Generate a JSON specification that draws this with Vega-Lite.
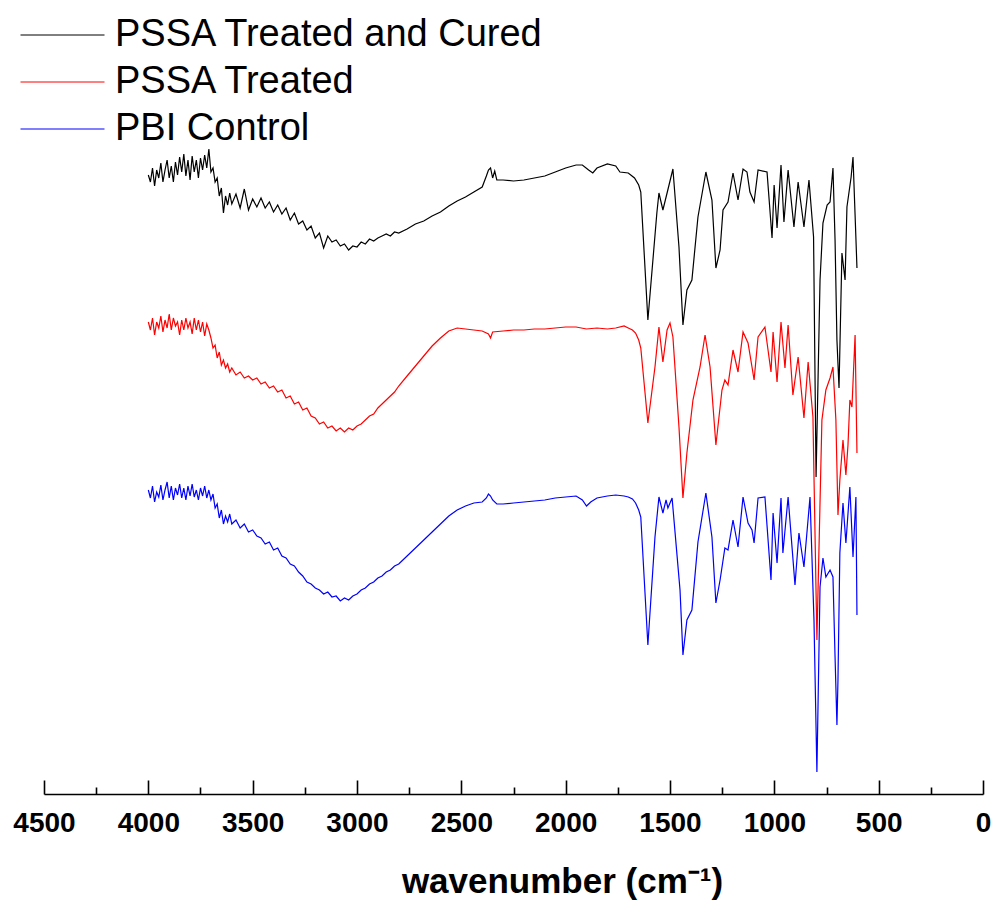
{
  "$schema": "https://vega.github.io/schema/vega-lite/v6.json",
  "width": 939,
  "height": 794,
  "autosize": {"type": "none"},
  "padding": {"left": 44, "top": 0, "right": 13, "bottom": 111},
  "background": "white",
  "config": {"view": {"stroke": null}, "font": "Liberation Sans"},
  "datasets": {
    "cured": [
      {"wn":4000,"t":61.9},{"wn":3990,"t":61.2},{"wn":3980,"t":62.6},{"wn":3970,"t":60.8},{"wn":3960,"t":62.4},{"wn":3950,"t":61.6},{"wn":3940,"t":63.1},{"wn":3930,"t":61.2},{"wn":3920,"t":62.4},{"wn":3910,"t":63.4},{"wn":3900,"t":61.6},{"wn":3890,"t":62.8},{"wn":3880,"t":61.2},{"wn":3870,"t":63.2},{"wn":3860,"t":61.9},{"wn":3850,"t":63.7},{"wn":3840,"t":62.2},{"wn":3830,"t":64.0},{"wn":3820,"t":61.8},{"wn":3810,"t":63.4},{"wn":3800,"t":61.4},{"wn":3790,"t":63.8},{"wn":3780,"t":62.2},{"wn":3770,"t":63.4},{"wn":3760,"t":61.6},{"wn":3750,"t":63.6},{"wn":3740,"t":62.4},{"wn":3730,"t":63.9},{"wn":3720,"t":62.6},{"wn":3710,"t":64.5},{"wn":3700,"t":62.2},{"wn":3690,"t":62.6},{"wn":3680,"t":61.2},{"wn":3670,"t":61.6},{"wn":3660,"t":59.8},{"wn":3650,"t":60.6},{"wn":3640,"t":58.1},{"wn":3630,"t":59.8},{"wn":3620,"t":58.9},{"wn":3610,"t":60.1},{"wn":3600,"t":59.0},
      {"wn":3580,"t":60.0},{"wn":3560,"t":58.6},{"wn":3540,"t":60.5},{"wn":3520,"t":58.4},{"wn":3500,"t":59.5},{"wn":3480,"t":58.7},{"wn":3460,"t":59.6},{"wn":3440,"t":58.6},{"wn":3420,"t":59.2},{"wn":3400,"t":58.2},{"wn":3380,"t":58.9},{"wn":3360,"t":58.0},{"wn":3340,"t":58.6},{"wn":3320,"t":57.4},{"wn":3300,"t":58.1},{"wn":3280,"t":57.0},{"wn":3260,"t":57.3},{"wn":3240,"t":56.4},{"wn":3220,"t":56.8},{"wn":3200,"t":55.6},{"wn":3180,"t":56.1},{"wn":3160,"t":54.6},{"wn":3140,"t":55.8},{"wn":3120,"t":55.2},{"wn":3100,"t":55.4},{"wn":3080,"t":54.8},{"wn":3060,"t":55.0},{"wn":3040,"t":54.4},{"wn":3020,"t":54.8},{"wn":3000,"t":54.7},{"wn":2980,"t":55.2},{"wn":2960,"t":55.0},{"wn":2940,"t":55.5},{"wn":2920,"t":55.3},{"wn":2900,"t":55.6},{"wn":2880,"t":55.8},{"wn":2860,"t":56.0},{"wn":2840,"t":55.8},{"wn":2820,"t":56.2},{"wn":2800,"t":56.1},{"wn":2760,"t":56.5},{"wn":2720,"t":57.0},{"wn":2680,"t":57.3},{"wn":2640,"t":57.8},{"wn":2600,"t":58.2},{"wn":2560,"t":58.8},{"wn":2520,"t":59.3},{"wn":2480,"t":59.7},{"wn":2440,"t":60.2},{"wn":2400,"t":60.7},{"wn":2380,"t":61.8},{"wn":2370,"t":62.4},{"wn":2360,"t":62.6},{"wn":2350,"t":61.6},{"wn":2340,"t":62.3},{"wn":2330,"t":61.4},{"wn":2300,"t":61.4},{"wn":2250,"t":61.3},{"wn":2200,"t":61.4},{"wn":2150,"t":61.6},{"wn":2100,"t":61.8},{"wn":2050,"t":62.2},{"wn":2000,"t":62.6},{"wn":1950,"t":62.9},{"wn":1920,"t":62.9},{"wn":1890,"t":62.4},{"wn":1870,"t":62.1},{"wn":1850,"t":62.6},{"wn":1800,"t":63.0},{"wn":1760,"t":62.8},{"wn":1740,"t":62.2},{"wn":1700,"t":62.1},{"wn":1670,"t":61.6},{"wn":1650,"t":60.9},{"wn":1640,"t":60.2},
      {"wn":1606,"t":47.4},{"wn":1563,"t":58.1},{"wn":1553,"t":60.1},{"wn":1534,"t":58.4},{"wn":1514,"t":60.1},{"wn":1486,"t":62.5},{"wn":1457,"t":54.7},{"wn":1438,"t":46.9},{"wn":1419,"t":50.4},{"wn":1395,"t":51.4},{"wn":1366,"t":57.7},{"wn":1328,"t":62.2},{"wn":1299,"t":59.4},{"wn":1280,"t":52.6},{"wn":1260,"t":54.4},{"wn":1246,"t":58.4},{"wn":1222,"t":59.2},{"wn":1198,"t":62.1},{"wn":1174,"t":59.4},{"wn":1150,"t":62.5},{"wn":1131,"t":62.2},{"wn":1117,"t":60.2},{"wn":1097,"t":59.2},{"wn":1078,"t":62.4},{"wn":1035,"t":62.2},{"wn":1011,"t":55.6},{"wn":1001,"t":60.9},{"wn":987,"t":56.6},{"wn":968,"t":62.9},{"wn":954,"t":57.2},{"wn":934,"t":62.4},{"wn":906,"t":56.7},{"wn":886,"t":61.2},{"wn":858,"t":56.7},{"wn":834,"t":61.4},{"wn":812,"t":55.7},{"wn":800,"t":31.7},{"wn":781,"t":51.4},{"wn":767,"t":57.1},{"wn":747,"t":58.9},{"wn":733,"t":59.2},{"wn":719,"t":62.6},{"wn":709,"t":55.4},{"wn":700,"t":45.4},{"wn":690,"t":40.6},{"wn":676,"t":54.1},{"wn":661,"t":51.4},{"wn":652,"t":58.7},{"wn":632,"t":61.7},{"wn":623,"t":63.7},{"wn":613,"t":57.9},{"wn":604,"t":52.6}
    ],
    "treated": [
      {"wn":4000,"t":47.2},{"wn":3990,"t":46.4},{"wn":3980,"t":47.6},{"wn":3970,"t":45.9},{"wn":3960,"t":47.2},{"wn":3950,"t":46.6},{"wn":3940,"t":47.8},{"wn":3930,"t":46.2},{"wn":3920,"t":47.4},{"wn":3910,"t":46.6},{"wn":3900,"t":48.0},{"wn":3890,"t":46.4},{"wn":3880,"t":47.6},{"wn":3870,"t":46.8},{"wn":3860,"t":47.2},{"wn":3850,"t":45.9},{"wn":3840,"t":47.4},{"wn":3830,"t":46.4},{"wn":3820,"t":47.6},{"wn":3810,"t":46.6},{"wn":3800,"t":47.2},{"wn":3790,"t":46.0},{"wn":3780,"t":47.6},{"wn":3770,"t":46.4},{"wn":3760,"t":47.4},{"wn":3750,"t":46.2},{"wn":3740,"t":47.2},{"wn":3730,"t":45.8},{"wn":3720,"t":47.0},{"wn":3710,"t":46.4},{"wn":3700,"t":45.6},{"wn":3690,"t":44.6},{"wn":3680,"t":44.9},{"wn":3670,"t":43.6},{"wn":3660,"t":44.2},{"wn":3650,"t":42.9},{"wn":3640,"t":43.4},{"wn":3630,"t":42.6},{"wn":3620,"t":43.0},{"wn":3610,"t":42.2},{"wn":3600,"t":42.6},
      {"wn":3580,"t":41.9},{"wn":3560,"t":42.2},{"wn":3540,"t":41.6},{"wn":3520,"t":41.8},{"wn":3500,"t":41.4},{"wn":3480,"t":41.6},{"wn":3460,"t":41.0},{"wn":3440,"t":41.2},{"wn":3420,"t":40.6},{"wn":3400,"t":40.8},{"wn":3380,"t":40.2},{"wn":3360,"t":40.4},{"wn":3340,"t":39.6},{"wn":3320,"t":39.8},{"wn":3300,"t":39.0},{"wn":3280,"t":39.2},{"wn":3260,"t":38.4},{"wn":3240,"t":38.6},{"wn":3220,"t":37.8},{"wn":3200,"t":37.6},{"wn":3180,"t":37.0},{"wn":3160,"t":37.2},{"wn":3140,"t":36.6},{"wn":3120,"t":36.8},{"wn":3100,"t":36.3},{"wn":3080,"t":36.6},{"wn":3060,"t":36.2},{"wn":3040,"t":36.6},{"wn":3020,"t":36.4},{"wn":3000,"t":36.8},{"wn":2980,"t":37.0},{"wn":2960,"t":37.4},{"wn":2940,"t":37.8},{"wn":2920,"t":38.0},{"wn":2900,"t":38.6},{"wn":2880,"t":39.0},{"wn":2860,"t":39.4},{"wn":2840,"t":39.8},{"wn":2820,"t":40.2},{"wn":2800,"t":40.8},{"wn":2760,"t":41.8},{"wn":2720,"t":42.8},{"wn":2680,"t":43.8},{"wn":2640,"t":44.8},{"wn":2600,"t":45.6},{"wn":2560,"t":46.3},{"wn":2520,"t":46.6},{"wn":2480,"t":46.5},{"wn":2440,"t":46.4},{"wn":2400,"t":46.3},{"wn":2370,"t":46.0},{"wn":2360,"t":45.6},{"wn":2350,"t":46.2},{"wn":2300,"t":46.3},{"wn":2250,"t":46.4},{"wn":2200,"t":46.4},{"wn":2150,"t":46.5},{"wn":2100,"t":46.5},{"wn":2050,"t":46.6},{"wn":2000,"t":46.7},{"wn":1950,"t":46.7},{"wn":1900,"t":46.5},{"wn":1850,"t":46.6},{"wn":1800,"t":46.5},{"wn":1760,"t":46.6},{"wn":1720,"t":46.8},{"wn":1700,"t":46.6},{"wn":1680,"t":46.4},{"wn":1665,"t":46.1},{"wn":1650,"t":45.4},{"wn":1640,"t":44.6},
      {"wn":1606,"t":37.1},{"wn":1572,"t":42.7},{"wn":1553,"t":46.7},{"wn":1534,"t":43.2},{"wn":1514,"t":46.4},{"wn":1500,"t":47.1},{"wn":1486,"t":45.7},{"wn":1457,"t":36.7},{"wn":1438,"t":29.6},{"wn":1419,"t":34.1},{"wn":1390,"t":39.4},{"wn":1356,"t":42.7},{"wn":1332,"t":45.9},{"wn":1308,"t":42.7},{"wn":1280,"t":34.9},{"wn":1251,"t":40.4},{"wn":1237,"t":41.4},{"wn":1222,"t":40.9},{"wn":1198,"t":44.4},{"wn":1174,"t":42.2},{"wn":1150,"t":46.2},{"wn":1126,"t":45.1},{"wn":1107,"t":42.7},{"wn":1097,"t":41.4},{"wn":1078,"t":45.7},{"wn":1045,"t":46.7},{"wn":1016,"t":42.2},{"wn":1006,"t":46.2},{"wn":987,"t":41.2},{"wn":968,"t":47.2},{"wn":949,"t":42.6},{"wn":934,"t":46.9},{"wn":911,"t":39.9},{"wn":886,"t":43.7},{"wn":858,"t":37.6},{"wn":838,"t":43.2},{"wn":815,"t":37.7},{"wn":796,"t":15.4},{"wn":772,"t":37.4},{"wn":753,"t":40.4},{"wn":733,"t":41.6},{"wn":719,"t":42.7},{"wn":705,"t":37.4},{"wn":695,"t":27.9},{"wn":686,"t":31.4},{"wn":671,"t":35.4},{"wn":657,"t":31.9},{"wn":647,"t":34.9},{"wn":638,"t":39.4},{"wn":628,"t":38.7},{"wn":613,"t":45.9},{"wn":604,"t":34.1}
    ],
    "control": [
      {"wn":4000,"t":30.4},{"wn":3990,"t":29.6},{"wn":3980,"t":30.8},{"wn":3970,"t":29.2},{"wn":3960,"t":30.2},{"wn":3950,"t":29.7},{"wn":3940,"t":30.9},{"wn":3930,"t":29.4},{"wn":3920,"t":30.4},{"wn":3910,"t":31.2},{"wn":3900,"t":29.6},{"wn":3890,"t":30.8},{"wn":3880,"t":29.4},{"wn":3870,"t":30.6},{"wn":3860,"t":29.9},{"wn":3850,"t":31.0},{"wn":3840,"t":29.6},{"wn":3830,"t":30.6},{"wn":3820,"t":29.4},{"wn":3810,"t":30.8},{"wn":3800,"t":29.8},{"wn":3790,"t":31.0},{"wn":3780,"t":29.7},{"wn":3770,"t":30.4},{"wn":3760,"t":29.4},{"wn":3750,"t":30.6},{"wn":3740,"t":29.8},{"wn":3730,"t":30.8},{"wn":3720,"t":29.6},{"wn":3710,"t":30.4},{"wn":3700,"t":29.4},{"wn":3690,"t":30.0},{"wn":3680,"t":28.6},{"wn":3670,"t":29.0},{"wn":3660,"t":27.6},{"wn":3650,"t":28.4},{"wn":3640,"t":27.0},{"wn":3630,"t":27.8},{"wn":3620,"t":27.2},{"wn":3610,"t":28.0},{"wn":3600,"t":27.0},
      {"wn":3580,"t":27.4},{"wn":3560,"t":26.6},{"wn":3540,"t":27.0},{"wn":3520,"t":26.2},{"wn":3500,"t":26.4},{"wn":3480,"t":25.8},{"wn":3460,"t":25.6},{"wn":3440,"t":25.0},{"wn":3420,"t":25.2},{"wn":3400,"t":24.4},{"wn":3380,"t":24.6},{"wn":3360,"t":23.8},{"wn":3340,"t":23.6},{"wn":3320,"t":23.0},{"wn":3300,"t":22.8},{"wn":3280,"t":22.2},{"wn":3260,"t":21.8},{"wn":3240,"t":21.2},{"wn":3220,"t":21.0},{"wn":3200,"t":20.6},{"wn":3180,"t":20.4},{"wn":3160,"t":20.0},{"wn":3140,"t":20.2},{"wn":3120,"t":19.7},{"wn":3100,"t":19.8},{"wn":3080,"t":19.3},{"wn":3060,"t":19.6},{"wn":3040,"t":19.4},{"wn":3020,"t":19.8},{"wn":3000,"t":20.0},{"wn":2980,"t":20.4},{"wn":2960,"t":20.6},{"wn":2940,"t":21.0},{"wn":2920,"t":21.2},{"wn":2900,"t":21.6},{"wn":2880,"t":21.8},{"wn":2860,"t":22.2},{"wn":2840,"t":22.4},{"wn":2820,"t":22.8},{"wn":2800,"t":23.0},{"wn":2760,"t":23.8},{"wn":2720,"t":24.6},{"wn":2680,"t":25.4},{"wn":2640,"t":26.2},{"wn":2600,"t":27.0},{"wn":2560,"t":27.8},{"wn":2520,"t":28.4},{"wn":2480,"t":28.8},{"wn":2440,"t":29.1},{"wn":2400,"t":29.2},{"wn":2380,"t":29.6},{"wn":2370,"t":30.0},{"wn":2360,"t":29.8},{"wn":2350,"t":29.4},{"wn":2330,"t":29.0},{"wn":2300,"t":29.0},{"wn":2250,"t":29.1},{"wn":2200,"t":29.2},{"wn":2150,"t":29.3},{"wn":2100,"t":29.4},{"wn":2050,"t":29.6},{"wn":2000,"t":29.7},{"wn":1950,"t":29.8},{"wn":1920,"t":29.4},{"wn":1900,"t":28.8},{"wn":1880,"t":29.2},{"wn":1850,"t":29.6},{"wn":1800,"t":29.8},{"wn":1760,"t":29.9},{"wn":1720,"t":29.8},{"wn":1700,"t":29.7},{"wn":1680,"t":29.5},{"wn":1665,"t":29.1},{"wn":1650,"t":28.4},{"wn":1640,"t":27.7},
      {"wn":1606,"t":14.9},{"wn":1572,"t":25.7},{"wn":1553,"t":29.7},{"wn":1534,"t":28.1},{"wn":1519,"t":29.4},{"wn":1510,"t":28.6},{"wn":1490,"t":29.6},{"wn":1452,"t":20.4},{"wn":1438,"t":13.9},{"wn":1419,"t":17.4},{"wn":1395,"t":18.4},{"wn":1366,"t":25.2},{"wn":1328,"t":30.1},{"wn":1299,"t":25.7},{"wn":1280,"t":19.1},{"wn":1260,"t":21.4},{"wn":1237,"t":24.6},{"wn":1222,"t":24.4},{"wn":1198,"t":27.4},{"wn":1174,"t":24.7},{"wn":1150,"t":29.7},{"wn":1126,"t":27.1},{"wn":1107,"t":26.4},{"wn":1097,"t":25.1},{"wn":1078,"t":29.6},{"wn":1045,"t":29.7},{"wn":1016,"t":21.4},{"wn":1006,"t":28.1},{"wn":987,"t":23.1},{"wn":968,"t":29.6},{"wn":959,"t":24.1},{"wn":934,"t":29.7},{"wn":901,"t":20.9},{"wn":882,"t":26.1},{"wn":858,"t":22.7},{"wn":829,"t":29.7},{"wn":810,"t":17.4},{"wn":796,"t":2.2},{"wn":781,"t":20.7},{"wn":767,"t":23.6},{"wn":753,"t":21.7},{"wn":733,"t":22.4},{"wn":719,"t":21.7},{"wn":709,"t":13.7},{"wn":700,"t":6.9},{"wn":695,"t":11.4},{"wn":686,"t":24.1},{"wn":671,"t":29.1},{"wn":657,"t":25.1},{"wn":638,"t":30.7},{"wn":623,"t":23.7},{"wn":609,"t":29.7},{"wn":604,"t":17.9}
    ]
  },
  "encoding": {
    "x": {
      "field": "wn",
      "type": "quantitative",
      "scale": {"domain": [0, 4500], "reverse": true, "nice": false, "zero": false},
      "axis": {
        "title": "wavenumber (cm⁻¹)",
        "values": [4500,4250,4000,3750,3500,3250,3000,2750,2500,2250,2000,1750,1500,1250,1000,750,500,250,0],
        "format": "d",
        "labelExpr": "datum.value % 500 === 0 ? datum.label : ''",
        "grid": false,
        "domainColor": "#000000",
        "domainWidth": 1.6,
        "tickColor": "#000000",
        "tickWidth": 1.6,
        "tickSize": {"condition": {"test": "datum.value % 500 === 0", "value": -14}, "value": -7},
        "labelFont": "Liberation Sans",
        "labelFontSize": 28,
        "labelFontWeight": "bold",
        "labelColor": "#000000",
        "labelPadding": 29,
        "labelFlush": false,
        "labelOverlap": false,
        "titleFont": "Liberation Sans",
        "titleFontSize": 35,
        "titleFontWeight": "bold",
        "titleColor": "#000000",
        "titleX": 518,
        "titleY": 98,
        "titleAlign": "center",
        "titleBaseline": "alphabetic"
      }
    },
    "y": {
      "field": "t",
      "type": "quantitative",
      "scale": {"domain": [0, 79.4], "nice": false, "zero": false},
      "axis": null
    }
  },
  "layer": [
    {
      "data": {"name": "cured"},
      "mark": {"type": "line", "strokeWidth": 1.2, "clip": false},
      "encoding": {
        "color": {
          "datum": "PSSA Treated and Cured",
          "type": "nominal",
          "scale": {"domain": ["PSSA Treated and Cured", "PSSA Treated", "PBI Control"], "range": ["#000000", "#ff0000", "#0000ff"]},
          "legend": {
            "title": null,
            "orient": "none",
            "legendX": -24,
            "legendY": 15,
            "padding": 0,
            "symbolType": "stroke",
            "symbolSize": 7056,
            "symbolStrokeWidth": 1,
            "labelFont": "Liberation Sans",
            "labelFontSize": 38,
            "labelColor": "#000000",
            "labelOffset": 10,
            "labelLimit": 1000,
            "clipHeight": 40,
            "rowPadding": 7
          }
        }
      }
    },
    {
      "data": {"name": "treated"},
      "mark": {"type": "line", "strokeWidth": 1.2, "clip": false},
      "encoding": {"color": {"datum": "PSSA Treated", "type": "nominal"}}
    },
    {
      "data": {"name": "control"},
      "mark": {"type": "line", "strokeWidth": 1.2, "clip": false},
      "encoding": {"color": {"datum": "PBI Control", "type": "nominal"}}
    }
  ]
}
